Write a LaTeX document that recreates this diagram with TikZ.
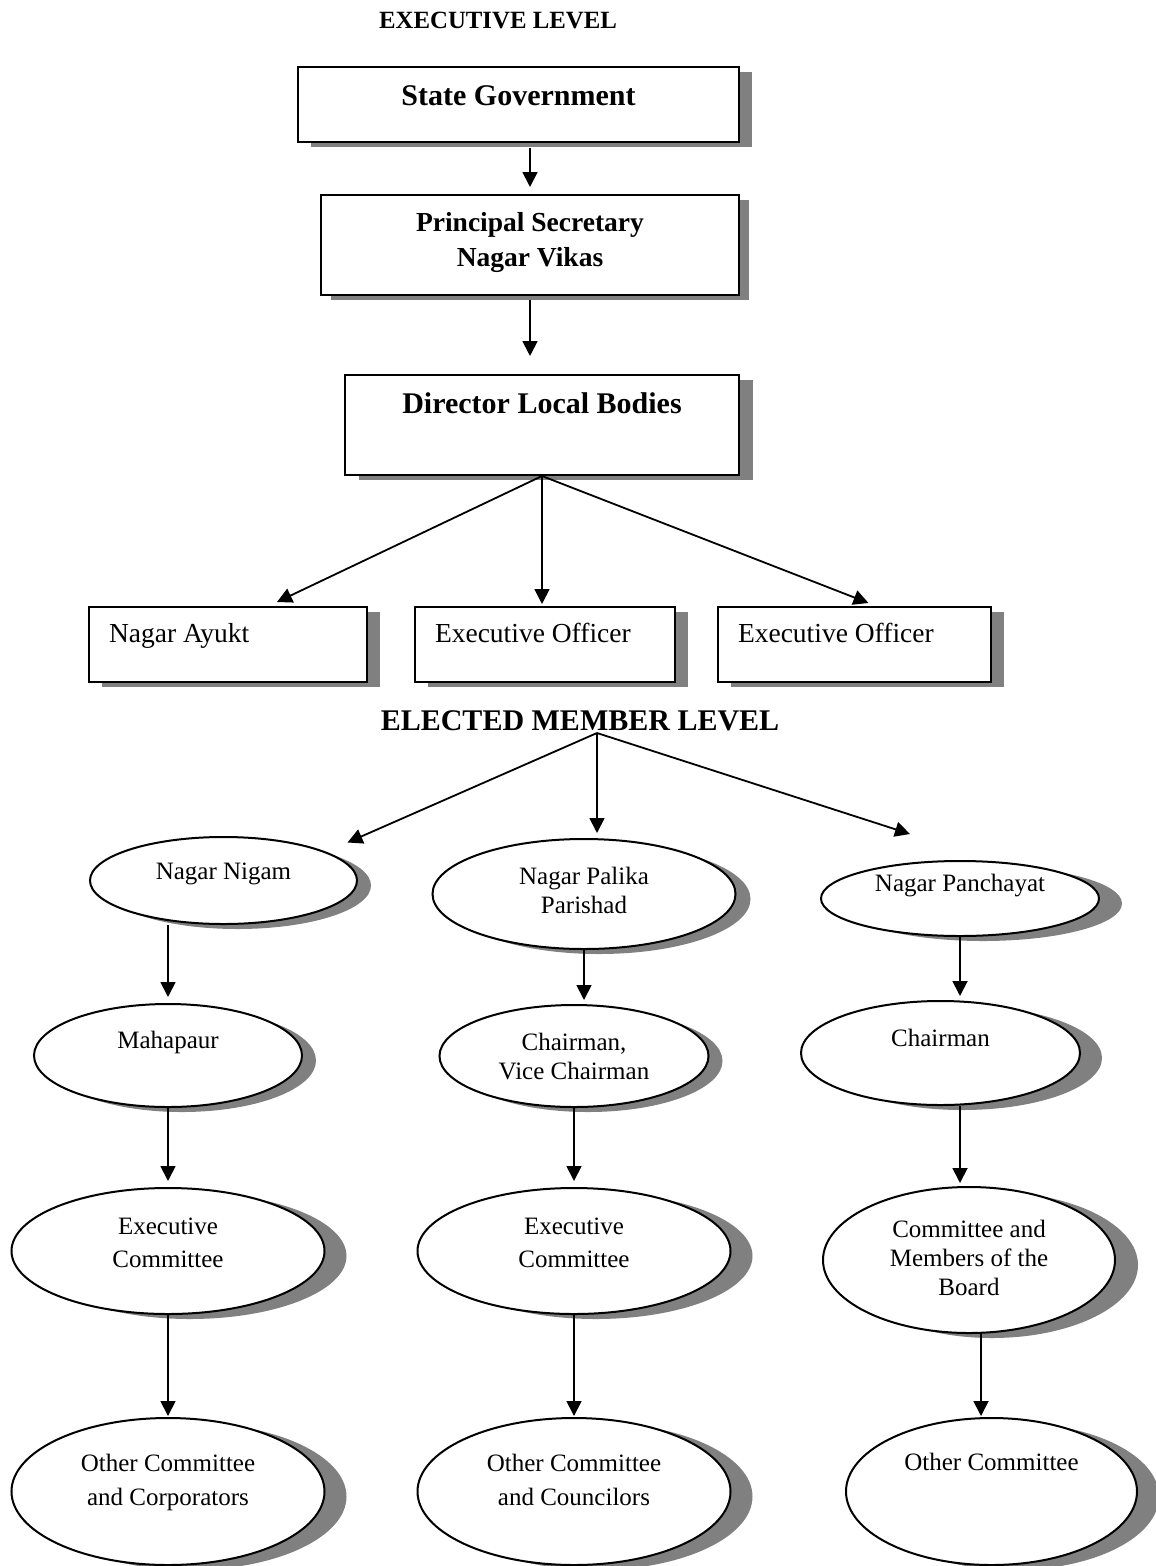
\documentclass[tikz,border=0pt]{standalone}
\usepackage{fontspec}
\setmainfont{Liberation Serif}
\usetikzlibrary{arrows.meta,shapes.geometric,shadows}
\begin{document}
\begin{tikzpicture}[x=1pt, y=-1pt,
  arr/.style={-{Triangle[length=15pt,width=15pt]}, line width=1.8pt},
  shadowed/.style={drop shadow={shadow xshift=#1, shadow yshift=-5pt, fill=black!50, opacity=1}},
  shadowed/.default=13pt,
  box/.style={draw, line width=2pt, fill=white, rectangle, inner sep=0pt, align=center},
  oval/.style={draw, line width=2pt, fill=white, ellipse, inner sep=0pt, align=center, text height=16pt, font=\fontsize{25}{29}\selectfont}]
\useasboundingbox (0,0) rectangle (1156,1566);
\node[anchor=base, font=\bfseries\fontsize{24.8}{30}\selectfont] (T_0) at (498,28) {EXECUTIVE LEVEL};
\node[box, shadowed, minimum width=441pt, minimum height=75pt, text height=20pt, text depth=19pt, font=\bfseries\fontsize{30}{36}\selectfont] (X_0) at (518.5,104.5) {State Government};
\node[box, shadowed=10pt, minimum width=418pt, minimum height=100pt, text height=48pt, text depth=6pt, font=\bfseries\fontsize{27.5}{33}\selectfont] (X_1) at (530,245) {Principal Secretary\\[2pt]Nagar Vikas};
\draw[arr, shorten <=5pt, shorten >=7pt] (X_0.south -| X_1.north) -- (X_1.north);
\node[box, shadowed=14pt, minimum width=394pt, minimum height=100pt, text height=20pt, text depth=44pt, font=\bfseries\fontsize{30}{36}\selectfont] (X_2) at (542,425) {Director Local Bodies};
\draw[arr, shorten <=4pt, shorten >=18pt] (X_1.south) -- (X_1.south |- X_2.north);
\node[box, shadowed, minimum height=75pt, text width=238pt, inner xsep=20pt, align=flush left, text height=18pt, text depth=23pt, font=\fontsize{27.5}{33}\selectfont] (X_3_0) at (228,644.5) {Nagar Ayukt};
\draw[arr] (X_2.south) -- ([xshift=49pt,yshift=4pt]X_3_0.north);
\node[box, shadowed, minimum height=75pt, text width=220pt, inner xsep=20pt, align=flush left, text height=18pt, text depth=23pt, font=\fontsize{27.5}{33}\selectfont] (X_3_1) at (545,644.5) {Executive Officer};
\draw[arr, shorten >=2pt] (X_2.south) -- (X_2.south |- X_3_1.north);
\node[box, shadowed, minimum height=75pt, text width=233pt, inner xsep=20pt, align=flush left, text height=18pt, text depth=23pt, font=\fontsize{27.5}{33}\selectfont] (X_3_2) at (854.5,644.5) {Executive Officer};
\draw[arr] (X_2.south) -- ([xshift=14pt,yshift=3pt]X_3_2.north);
\node[anchor=base, font=\bfseries\fontsize{30}{36}\selectfont] (T_1) at (580,730) {ELECTED MEMBER LEVEL};
\coordinate (T_1_hub) at ([xshift=17pt,yshift=-3pt]T_1.base);
\node[oval, shadowed=14pt, minimum width=267pt, minimum height=87pt, text depth=19pt] (M_0_0) at (223.5,880.5) {Nagar Nigam};
\draw[arr] (T_1_hub) -- ([xshift=124pt,yshift=38pt]M_0_0.center);
\node[oval, shadowed=15pt, minimum width=303pt, minimum height=110pt, text height=44pt, text depth=6pt] (M_1_0) at (584,894) {Nagar Palika\\Parishad};
\draw[arr, shorten >=5pt] (T_1_hub) -- (T_1_hub |- M_1_0.north);
\node[oval, shadowed=23pt, minimum width=278pt, minimum height=75pt, text depth=31pt] (M_2_0) at (960,898.5) {Nagar Panchayat};
\draw[arr] (T_1_hub) -- ([xshift=-50pt,yshift=26pt]M_2_0.north);
\node[oval, shadowed=14pt, minimum width=268pt, minimum height=103pt, text depth=31pt] (M_0_1) at (168,1055.5) {Mahapaur};
\draw[arr, shorten >=6pt] (M_0_0.south -| M_0_1.north) -- (M_0_1.north);
\node[oval, shadowed=22pt, minimum width=313pt, minimum height=126pt, text height=38pt, text depth=6pt] (M_0_2) at (168,1251) {Executive\\[4pt]Committee};
\draw[arr, shorten >=6pt] (M_0_1.south) -- (M_0_1.south |- M_0_2.north);
\node[oval, shadowed=22pt, minimum width=313pt, minimum height=147pt, text height=33pt, text depth=6pt] (M_0_3) at (168,1491.5) {Other Committee\\[5pt]and Corporators};
\draw[arr, shorten >=1pt] (M_0_2.south) -- (M_0_2.south |- M_0_3.north);
\node[oval, shadowed=14pt, minimum width=269pt, minimum height=102pt, text height=52pt, text depth=6pt] (M_1_1) at (574,1056) {Chairman,\\Vice Chairman};
\draw[arr, shorten >=4pt] (M_1_0.south) -- (M_1_0.south |- M_1_1.north);
\node[oval, shadowed=22pt, minimum width=313pt, minimum height=126pt, text height=38pt, text depth=6pt] (M_1_2) at (574,1251) {Executive\\[4pt]Committee};
\draw[arr, shorten >=6pt] (M_1_1.south) -- (M_1_1.south |- M_1_2.north);
\node[oval, shadowed=22pt, minimum width=313pt, minimum height=147pt, text height=33pt, text depth=6pt] (M_1_3) at (574,1491.5) {Other Committee\\[5pt]and Councilors};
\draw[arr, shorten >=1pt] (M_1_2.south) -- (M_1_2.south |- M_1_3.north);
\node[oval, shadowed=22pt, minimum width=279pt, minimum height=104pt, text depth=30pt] (M_2_1) at (940.5,1053) {Chairman};
\draw[arr, shorten >=4pt] (M_2_0.south) -- (M_2_0.south |- M_2_1.north);
\node[oval, shadowed=23pt, minimum width=292pt, minimum height=146pt, text height=76pt, text depth=6pt] (M_2_2) at (969,1260) {Committee and\\Members of the\\Board};
\draw[arr, shorten >=3pt] (M_2_1.south -| M_2_0.south) -- (M_2_0.south |- M_2_2.north);
\node[oval, shadowed=22pt, minimum width=291pt, minimum height=147pt, text depth=58pt] (M_2_3) at (991.5,1491.5) {Other Committee};
\draw[arr, shorten >=1pt] ([xshift=12pt]M_2_2.south) -- ([xshift=12pt]M_2_2.south |- M_2_3.north);
\end{tikzpicture}
\end{document}
